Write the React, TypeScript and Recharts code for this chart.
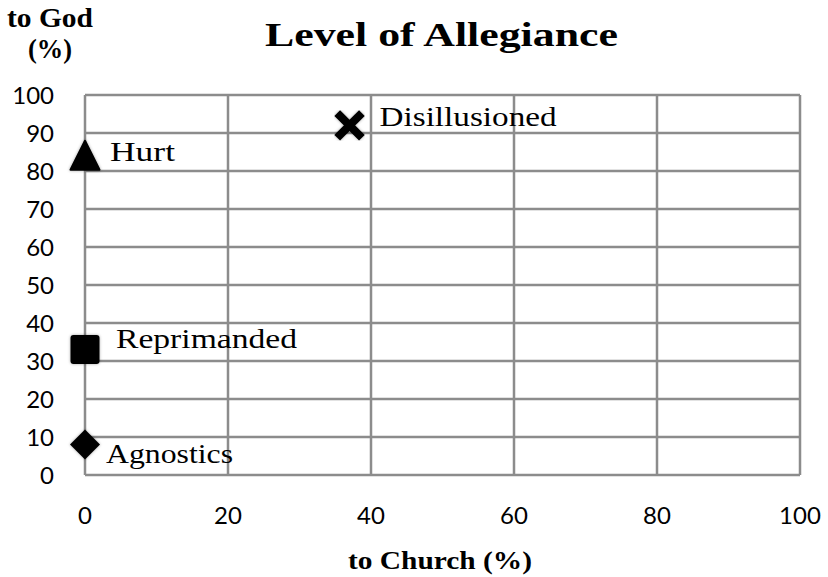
/**
 * Level of Allegiance — scatter of four groups, allegiance to church (x)
 * against allegiance to God (y). Markers are custom glyphs with their
 * name written beside them, like the original spreadsheet chart.
 */
import { ScatterChart, Scatter, XAxis, YAxis, CartesianGrid } from "recharts";

const groups = ["Hurt", "Disillusioned", "Reprimanded", "Agnostics"];
const toChurch = [0, 37, 0, 0];
const toGod = [84, 92, 33, 8];

const churchTicks = [0, 20, 40, 60, 80, 100];
const godTicks = [0, 10, 20, 30, 40, 50, 60, 70, 80, 90, 100];

const W = 828;
const H = 577;
const SERIF = "'Liberation Serif', 'Times New Roman', serif";
const SANS = "Lato, 'Open Sans', sans-serif";
const GRID = "#8c8c8c";

// label placement next to each marker (dx, baseline dy, stretched width)
const LABEL_STYLE: Record<string, { dx: number; dy: number; len: number }> = {
  Hurt: { dx: 25, dy: 5, len: 65 },
  Disillusioned: { dx: 30, dy: 1, len: 177 },
  Reprimanded: { dx: 31, dy: -2, len: 181 },
  Agnostics: { dx: 21, dy: 18, len: 127 },
};

function Marker({ name, cx, cy }: { name: string; cx: number; cy: number }) {
  switch (name) {
    case "Hurt":
      return (
        <path
          d={`M${cx},${cy - 15} L${cx + 14.5},${cy + 14} L${cx - 14.5},${cy + 14} Z`}
          fill="#000"
          stroke="#000"
          strokeWidth={2}
          strokeLinejoin="round"
          filter="url(#soft)"
        />
      );
    case "Disillusioned":
      return (
        <g stroke="#000" strokeWidth={8} strokeLinecap="square" filter="url(#soft)">
          <line x1={cx - 9.5} y1={cy - 9.5} x2={cx + 9.5} y2={cy + 9.5} />
          <line x1={cx - 9.5} y1={cy + 9.5} x2={cx + 9.5} y2={cy - 9.5} />
        </g>
      );
    case "Reprimanded":
      return (
        <rect x={cx - 14.5} y={cy - 14.5} width={29} height={29} rx={3} fill="#000" filter="url(#soft)" />
      );
    default:
      return (
        <path
          d={`M${cx},${cy - 15} L${cx + 15},${cy} L${cx},${cy + 15} L${cx - 15},${cy} Z`}
          fill="#000"
          filter="url(#soft)"
        />
      );
  }
}

function PointShape(props: any) {
  const { cx, cy, payload } = props;
  const s = LABEL_STYLE[payload.name];
  return (
    <g>
      <Marker name={payload.name} cx={cx} cy={cy} />
      <text
        x={cx + s.dx}
        y={cy + s.dy}
        fontFamily={SERIF}
        fontSize={28}
        fill="#000"
        textLength={s.len}
        lengthAdjust="spacingAndGlyphs"
      >
        {payload.name}
      </text>
    </g>
  );
}

export default function App() {
  const data = groups.map((name, i) => ({ name, church: toChurch[i], god: toGod[i] }));

  return (
    <div style={{ position: "absolute", left: 0, top: 0, width: W, height: H, background: "#fff" }}>
      <ScatterChart width={W} height={H} margin={{ top: 95, right: 28, left: 0, bottom: 0 }}>
        <defs>
          <filter id="soft" x="-30%" y="-30%" width="160%" height="160%">
            <feDropShadow dx="0" dy="0" stdDeviation="1.5" floodColor="#000" floodOpacity="0.35" />
          </filter>
        </defs>
        <CartesianGrid stroke={GRID} strokeWidth={2.5} horizontalValues={godTicks} verticalValues={churchTicks} />
        <XAxis
          type="number"
          dataKey="church"
          domain={[0, 100]}
          ticks={churchTicks}
          height={102}
          axisLine={false}
          tickLine={false}
          tickSize={0}
          tickMargin={32}
          interval={0}
          tick={{ fontFamily: SANS, fontSize: 24, fill: "#000" }}
        />
        <YAxis
          type="number"
          dataKey="god"
          domain={[0, 100]}
          ticks={godTicks}
          width={85}
          axisLine={false}
          tickLine={false}
          tickSize={0}
          tickMargin={31}
          interval={0}
          tick={{ fontFamily: SANS, fontSize: 24, fill: "#000" }}
        />
        <Scatter data={data} shape={PointShape} isAnimationActive={false} />
      </ScatterChart>
      <svg
        width={W}
        height={H}
        style={{ position: "absolute", left: 0, top: 0, pointerEvents: "none" }}
      >
        <text x={265} y={46} fontFamily={SERIF} fontWeight="bold" fontSize={34} textLength={353} lengthAdjust="spacingAndGlyphs">
          Level of Allegiance
        </text>
        <text x={7} y={27} fontFamily={SERIF} fontWeight="bold" fontSize={27} textLength={86} lengthAdjust="spacingAndGlyphs">
          to God
        </text>
        <text x={28} y={58} fontFamily={SERIF} fontWeight="bold" fontSize={27} textLength={44} lengthAdjust="spacingAndGlyphs">
          (%)
        </text>
        <text x={348} y={569} fontFamily={SERIF} fontWeight="bold" fontSize={26} textLength={184} lengthAdjust="spacingAndGlyphs">
          to Church (%)
        </text>
      </svg>
    </div>
  );
}
